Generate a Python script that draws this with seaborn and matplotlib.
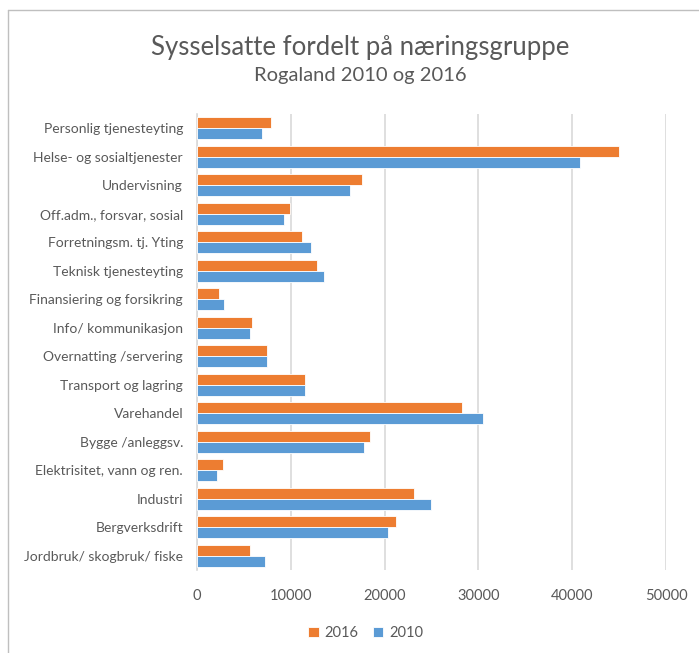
import matplotlib
matplotlib.use("Agg")
import matplotlib.pyplot as plt
import pandas as pd
import seaborn as sns
from matplotlib.lines import Line2D

# Data (lest av fra figuren)
naeringer = [
    "Personlig tjenesteyting",
    "Helse- og sosialtjenester",
    "Undervisning",
    "Off.adm., forsvar, sosial",
    "Forretningsm. tj. Yting",
    "Teknisk tjenesteyting",
    "Finansiering og forsikring",
    "Info/ kommunikasjon",
    "Overnatting /servering",
    "Transport og lagring",
    "Varehandel",
    "Bygge /anleggsv.",
    "Elektrisitet, vann og ren.",
    "Industri",
    "Bergverksdrift",
    "Jordbruk/ skogbruk/ fiske",
]
ar_2016 = [7900, 45000, 17600, 9950, 11200, 12800, 2300, 5900,
           7450, 11550, 28250, 18400, 2750, 23100, 21200, 5700]
ar_2010 = [6950, 40800, 16350, 9300, 12150, 13550, 2900, 5700,
           7450, 11550, 30450, 17800, 2100, 24950, 20400, 7300]
aar = ["2016", "2010"]
farger = ["#ED7D31", "#5B9BD5"]

df = pd.DataFrame({
    "naering": naeringer * 2,
    "antall": ar_2016 + ar_2010,
    "aar": ["2016"] * len(naeringer) + ["2010"] * len(naeringer),
})

sns.set_theme(style="white")
plt.rcParams["font.family"] = ["Lato", "DejaVu Sans"]

fig = plt.figure(figsize=(6.99, 6.53), dpi=100)
ax = fig.add_axes([0.2818, 0.1271, 0.671, 0.6983])

sns.barplot(data=df, y="naering", x="antall", hue="aar", hue_order=aar,
            palette=farger, order=naeringer, orient="h", width=0.78,
            saturation=1, edgecolor="white", linewidth=0.6, ax=ax, zorder=3)

ax.set_xlim(0, 50000)
ax.set_xticks(range(0, 50001, 10000))
ax.set_xlabel("")
ax.set_ylabel("")
ax.grid(axis="x", color="#D9D9D9", linewidth=1.2, zorder=0)
ax.set_axisbelow(True)
for s in ["top", "right", "bottom"]:
    ax.spines[s].set_visible(False)
ax.spines["left"].set_color("#D9D9D9")
ax.spines["left"].set_linewidth(1.2)
ax.tick_params(axis="both", length=0, colors="#595959", labelsize=10)
ax.tick_params(axis="y", pad=10)
ax.tick_params(axis="x", pad=14, labelsize=10.5)

leg = ax.legend(loc="upper center", bbox_to_anchor=(0.36, -0.095), ncol=2,
                frameon=False, fontsize=10.5, handlelength=0.7, handleheight=0.7,
                columnspacing=1.0, handletextpad=0.4)
for t in leg.get_texts():
    t.set_color("#595959")

fig.text(0.515, 0.928, "Sysselsatte fordelt på næringsgruppe",
         ha="center", va="center", fontsize=18.5, color="#595959")
fig.text(0.515, 0.885, "Rogaland 2010 og 2016",
         ha="center", va="center", fontsize=14.5, color="#595959")

# ramme rundt diagrammet
fig.add_artist(Line2D([8 / 699, 1], [1 - 10 / 653, 1 - 10 / 653],
                      transform=fig.transFigure, color="#BFBFBF", linewidth=1))
fig.add_artist(Line2D([8 / 699, 8 / 699], [0, 1 - 10 / 653],
                      transform=fig.transFigure, color="#BFBFBF", linewidth=1))

fig.savefig("out.png", dpi=100)
